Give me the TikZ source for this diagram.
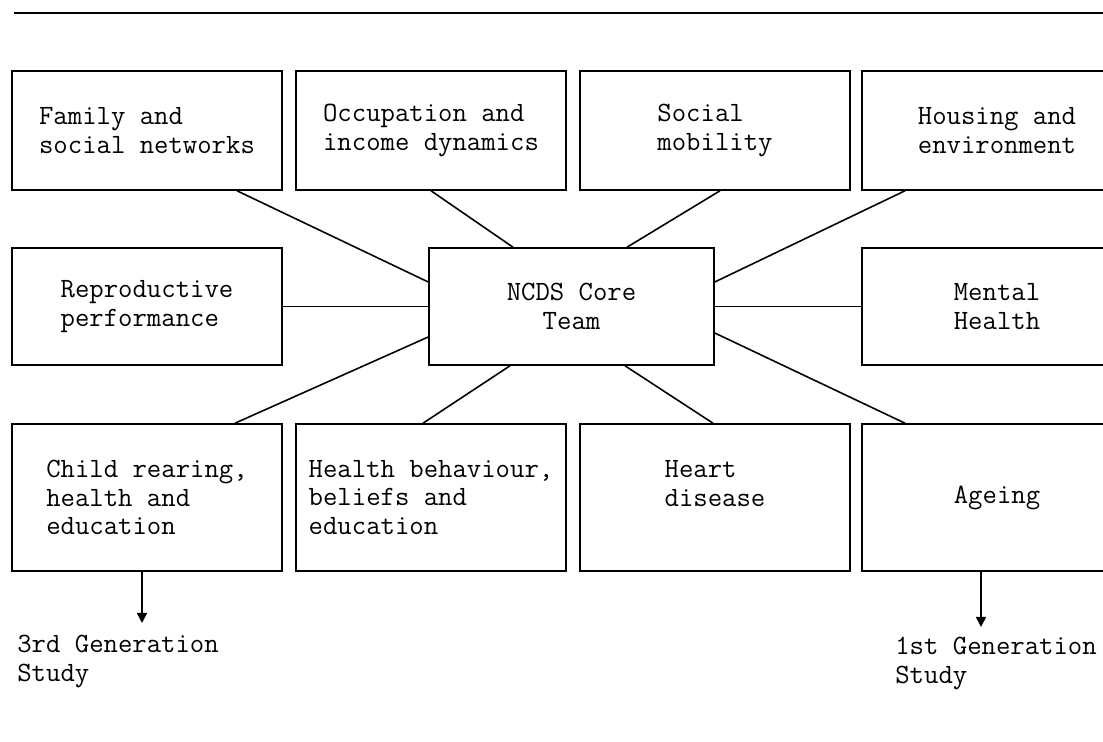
\documentclass[tikz,border=0pt]{standalone}
\usepackage{fontspec}
\usetikzlibrary{arrows.meta}

\tikzset{
  topic/.style={draw,line width=0.9pt,minimum width=5.4cm,align=left,inner sep=0pt,
    font=\ttfamily\fontsize{15.9pt}{16.2pt}\selectfont},
  spoke/.style={line width=0.9pt},
  gen/.style={align=left,inner sep=0pt,anchor=north west,
    font=\ttfamily\fontsize{15.9pt}{16.2pt}\selectfont}
}

\begin{document}
\begin{tikzpicture}[x=0.02cm,y=-0.02cm]

\useasboundingbox (0,0) rectangle (1103,742) ;

%rule across the top
\draw [line width=0.9pt] (14,13) -- (1103,13) ;

%first row
\node [topic,minimum height=2.38cm] (fam) at (147,130.5) {Family and\\social networks} ;
\node [topic,minimum height=2.38cm] (occ) at (431,130.5) {Occupation and\\income dynamics} ;
\node [topic,minimum height=2.38cm] (soc) at (715,130.5) {Social\\mobility} ;
\node [topic,minimum height=2.38cm] (hou) at (997,130.5) {Housing and\\environment} ;

%middle row
\node [topic,minimum height=2.34cm] (rep) at (147,306.5) {Reproductive\\performance} ;
\node [topic,minimum height=2.34cm,minimum width=5.7cm,align=center] (core) at (571.5,306.5) {NCDS Core\\Team} ;
\node [topic,minimum height=2.34cm] (men) at (997,306.5) {Mental\\Health} ;

%bottom row
\node [topic,minimum height=2.94cm] (chi) at (147,497.5) {Child rearing,\\health and\\education} ;
\node [topic,minimum height=2.94cm] (beh) at (431,497.5) {Health behaviour,\\beliefs and\\education} ;
\node [topic,minimum height=2.94cm] (hea) at (715,497.5) {Heart\\disease\\{}} ;
\node [topic,minimum height=2.94cm] (age) at (997,497.5) {Ageing} ;

%spokes to the core team
\draw [spoke] ([xshift=1.8cm]fam.south) -- ([yshift=0.49cm]core.west) ;
\draw [spoke] (occ.south) -- ([xshift=-1.17cm]core.north) ;
\draw [spoke] ([xshift=0.1cm]soc.south) -- ([xshift=1.11cm]core.north) ;
\draw [spoke] ([xshift=-1.84cm]hou.south) -- ([yshift=0.49cm]core.east) ;
\draw [spoke] (rep.east) -- (core.west) ;
\draw [spoke] (core.east) -- (men.west) ;
\draw [spoke] ([yshift=-0.61cm]core.west) -- ([xshift=1.76cm]chi.north) ;
\draw [spoke] ([xshift=-1.23cm]core.south) -- ([xshift=-0.16cm]beh.north) ;
\draw [spoke] ([xshift=1.07cm]core.south) -- ([xshift=-0.04cm]hea.north) ;
\draw [spoke] ([yshift=-0.53cm]core.east) -- ([xshift=-1.84cm]age.north) ;

%generation studies
\coordinate (tip3) at (142,623) ;
\coordinate (tip1) at (981,627) ;
\node [gen] (gen3) at (17,635) {3rd Generation\\Study} ;
\node [gen] (gen1) at (895,637) {1st Generation\\Study} ;

\draw [spoke,-{Triangle[length=2mm,width=2mm]}] ([xshift=-0.1cm]chi.south) -- (tip3) ;
\draw [spoke,-{Triangle[length=2mm,width=2mm]}] ([xshift=-0.32cm]age.south) -- (tip1) ;

\end{tikzpicture}
\end{document}
